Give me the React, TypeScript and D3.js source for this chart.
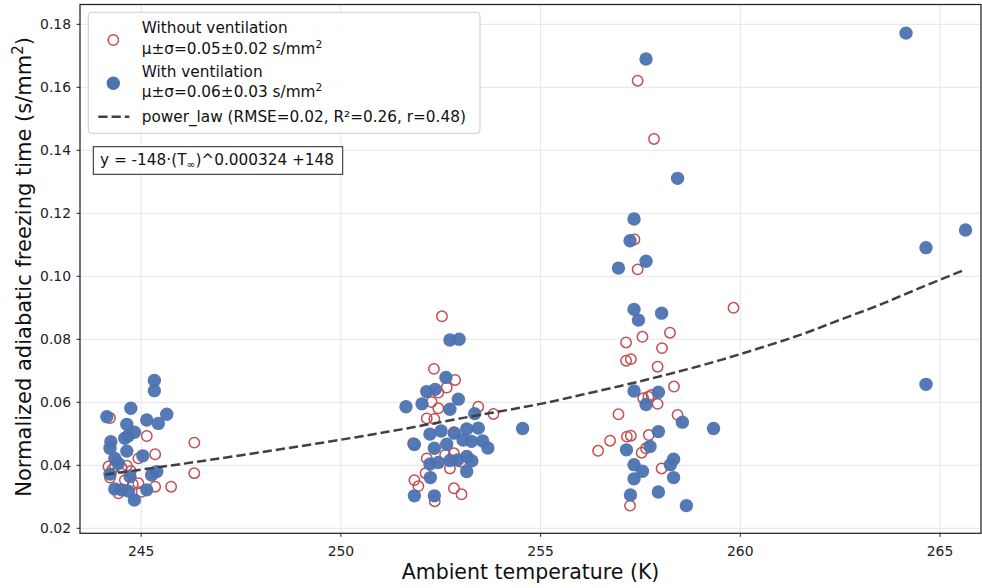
import React from 'react';
import * as d3 from 'd3';

// ---- data ----
const xTicks = [245, 250, 255, 260, 265];
const yTicks = [0.02, 0.04, 0.06, 0.08, 0.1, 0.12, 0.14, 0.16, 0.18];

// Without ventilation (open markers)
const noVentT = [
  244.22, 245.14, 246.33, 245.35, 244.93, 244.18, 244.34, 244.64, 244.51, 246.33,
  244.22, 244.93, 244.79, 245.35, 245.75, 244.43, 245.01, 244.74, 244.59, 244.27,
  252.53, 252.33, 252.86, 252.65, 252.44, 252.27, 252.44, 252.15, 252.34, 253.44,
  253.82, 251.81, 252.15, 252.83, 252.73, 252.12, 251.84, 251.94, 252.83, 253.02,
  252.35, 252.83, 252.61, 253.01,
  257.43, 257.84, 257.35, 257.43, 258.24, 257.55, 257.14, 258.04, 257.14, 257.26,
  257.93, 258.34, 257.57, 257.70, 257.78, 257.93, 256.95, 258.43, 257.16, 257.26,
  257.71, 256.74, 256.44, 257.53, 257.64, 258.03, 257.24, 259.83,
];
const noVentV = [
  0.0550, 0.0493, 0.0472, 0.0435, 0.0422, 0.0396, 0.0396, 0.0399, 0.0392, 0.0375,
  0.0361, 0.0343, 0.0340, 0.0332, 0.0332, 0.0311, 0.0316, 0.0382, 0.0353, 0.0385,
  0.0873, 0.0706, 0.0671, 0.0647, 0.0631, 0.0601, 0.0581, 0.0549, 0.0547, 0.0586,
  0.0563, 0.0470, 0.0422, 0.0438, 0.0390, 0.0375, 0.0353, 0.0334, 0.0327, 0.0308,
  0.0286, 0.0505, 0.0433, 0.0411,
  0.1621, 0.1436, 0.1117, 0.1022, 0.0821, 0.0808, 0.0790, 0.0772, 0.0732, 0.0737,
  0.0713, 0.0650, 0.0613, 0.0618, 0.0623, 0.0595, 0.0562, 0.0560, 0.0491, 0.0494,
  0.0496, 0.0478, 0.0446, 0.0440, 0.0454, 0.0390, 0.0272, 0.0900,
];

// With ventilation (filled markers)
const ventT = [
  245.33, 245.33, 244.74, 244.14, 245.64, 245.14, 245.43, 244.64, 244.83, 244.68,
  244.59, 244.24, 244.22, 244.64, 244.34, 245.04, 244.43, 245.39, 245.26, 244.22,
  244.72, 244.34, 244.51, 244.68, 245.14, 244.83,
  252.73, 252.96, 252.63, 252.15, 252.36, 251.63, 252.03, 252.94, 252.73, 253.35,
  254.55, 252.23, 252.51, 252.84, 253.15, 253.44, 253.06, 253.27, 252.65, 251.84,
  252.34, 253.55, 253.68, 252.23, 252.44, 252.73, 252.92, 253.15, 253.28, 252.24,
  253.15, 251.84, 252.34,
  257.64, 258.43, 257.34, 257.24, 257.64, 256.95, 257.34, 257.45, 258.03, 257.34,
  257.95, 257.64, 258.55, 259.33, 257.95, 257.74, 257.15, 257.34, 257.55, 258.33,
  258.25, 257.34, 258.33, 257.25, 257.95, 258.65,
  264.15, 264.65, 265.64, 264.65,
];
const ventV = [
  0.0669, 0.0637, 0.0581, 0.0554, 0.0562, 0.0544, 0.0533, 0.0530, 0.0505, 0.0494,
  0.0486, 0.0475, 0.0454, 0.0445, 0.0422, 0.0430, 0.0406, 0.0380, 0.0369, 0.0372,
  0.0364, 0.0325, 0.0322, 0.0318, 0.0322, 0.0290,
  0.0798, 0.0800, 0.0679, 0.0634, 0.0641, 0.0586, 0.0595, 0.0610, 0.0578, 0.0564,
  0.0517, 0.0499, 0.0509, 0.0502, 0.0515, 0.0518, 0.0480, 0.0476, 0.0467, 0.0466,
  0.0454, 0.0477, 0.0455, 0.0404, 0.0409, 0.0415, 0.0417, 0.0428, 0.0414, 0.0361,
  0.0380, 0.0303, 0.0303,
  0.1690, 0.1311, 0.1182, 0.1113, 0.1048, 0.1026, 0.0895, 0.0861, 0.0883, 0.0636,
  0.0632, 0.0593, 0.0537, 0.0517, 0.0507, 0.0460, 0.0449, 0.0402, 0.0381, 0.0419,
  0.0402, 0.0357, 0.0361, 0.0306, 0.0315, 0.0272,
  0.1772, 0.1091, 0.1147, 0.0657,
];

// power-law fit curve
const fitT = [244.1, 246, 249, 251.2, 253, 255, 256, 257.5, 259, 260, 261.5, 262.5, 263.5, 264.5, 265.6];
const fitV = [0.0371, 0.0404, 0.0461, 0.0507, 0.0549, 0.0595, 0.0623, 0.0667, 0.0716, 0.0753, 0.0814, 0.0862, 0.0910, 0.0963, 0.1020];

const BLUE = '#4C72B0';
const RED = '#C44E52';
const FONT = '"DejaVu Sans", sans-serif';

export default function App() {
  const W = 982, H = 588;
  const L = 80, R = 981, T = 4.5, B = 533.3;
  const x = d3.scaleLinear().domain([243.468, 266.027]).range([L, R]);
  const y = d3.scaleLinear().domain([0.01841, 0.18629]).range([B, T]);
  const pts: [number, number][] = fitT.map((t, i) => [t, fitV[i]]);
  const line = d3.line<[number, number]>().x(d => x(d[0])).y(d => y(d[1])).curve(d3.curveCatmullRom.alpha(0.5));
  const fmtY = d3.format('.2f');

  return (
    <svg width={W} height={H} style={{ position: 'absolute', left: 0, top: 0, background: '#fff' }} fontFamily={FONT}>
      <rect x={0} y={0} width={W} height={H} fill="#fff" />
      {/* grid */}
      {xTicks.map(t => (
        <line key={'gx' + t} x1={x(t)} x2={x(t)} y1={T} y2={B} stroke="#e5e5e5" strokeWidth={1} />
      ))}
      {yTicks.map(t => (
        <line key={'gy' + t} x1={L} x2={R} y1={y(t)} y2={y(t)} stroke="#e5e5e5" strokeWidth={1} />
      ))}
      {/* open markers */}
      {noVentT.map((t, i) => (
        <circle key={'o' + i} cx={x(t)} cy={y(noVentV[i])} r={5.2} fill="none" stroke={RED} strokeWidth={1.5} />
      ))}
      {/* filled markers */}
      {ventT.map((t, i) => (
        <circle key={'f' + i} cx={x(t)} cy={y(ventV[i])} r={6.7} fill={BLUE} fillOpacity={0.95} />
      ))}
      {/* fit */}
      <path d={line(pts) || ''} fill="none" stroke="#404040" strokeWidth={2.5} strokeDasharray="9.25,4" />
      {/* frame */}
      <rect x={L} y={T} width={R - L} height={B - T} fill="none" stroke="#222" strokeWidth={1.25} />
      {/* ticks */}
      {xTicks.map(t => (
        <g key={'xt' + t}>
          <line x1={x(t)} x2={x(t)} y1={B} y2={B + 3.5} stroke="#222" strokeWidth={1} />
          <text x={x(t)} y={555.5} textAnchor="middle" fontSize={13.9} fill="#222">{t}</text>
        </g>
      ))}
      {yTicks.map(t => (
        <g key={'yt' + t}>
          <line x1={L - 3.5} x2={L} y1={y(t)} y2={y(t)} stroke="#222" strokeWidth={1} />
          <text x={71} y={y(t) + 5} textAnchor="end" fontSize={13.9} fill="#222">{fmtY(t)}</text>
        </g>
      ))}
      {/* axis labels */}
      <text x={(L + R) / 2} y={579} textAnchor="middle" fontSize={20.5} fill="#111">Ambient temperature (K)</text>
      <text transform={`translate(30.5, ${(T + B) / 2 - 2}) rotate(-90)`} textAnchor="middle" fontSize={21} fill="#111">
        Normalized adiabatic freezing time (s/mm<tspan fontSize={15} dy={-8}>2</tspan><tspan dy={8}>)</tspan>
      </text>
      {/* legend */}
      <rect x={88.3} y={12.3} width={391.7} height={121} rx={3.5} fill="#fff" fillOpacity={0.85} stroke="#cccccc" strokeWidth={1} />
      <circle cx={113.3} cy={40} r={5.2} fill="none" stroke={RED} strokeWidth={1.5} />
      <circle cx={113.3} cy={83.3} r={6.7} fill={BLUE} />
      <line x1={98.3} x2={129.3} y1={116.7} y2={116.7} stroke="#404040" strokeWidth={2.5} strokeDasharray="9.25,4" />
      <g fontSize={15.3} fill="#111">
        <text x={141.7} y={33.3}>Without ventilation</text>
        <text x={141.7} y={53.6}>μ±σ=0.05±0.02 s/mm<tspan fontSize={10.7} dy={-6}>2</tspan></text>
        <text x={141.7} y={77.3}>With ventilation</text>
        <text x={141.7} y={97.3}>μ±σ=0.06±0.03 s/mm<tspan fontSize={10.7} dy={-6}>2</tspan></text>
        <text x={141.7} y={122}>power_law (RMSE=0.02, R²=0.26, r=0.48)</text>
      </g>
      {/* formula box */}
      <rect x={93.3} y={146.7} width={249.4} height={27.6} fill="#fff" stroke="#222" strokeWidth={1} />
      <text x={100} y={165.3} fontSize={15.3} fill="#111">
        y = -148·(T<tspan fontSize={10.7} dy={3}>∞</tspan><tspan dy={-3}>)^0.000324 +148</tspan>
      </text>
    </svg>
  );
}
